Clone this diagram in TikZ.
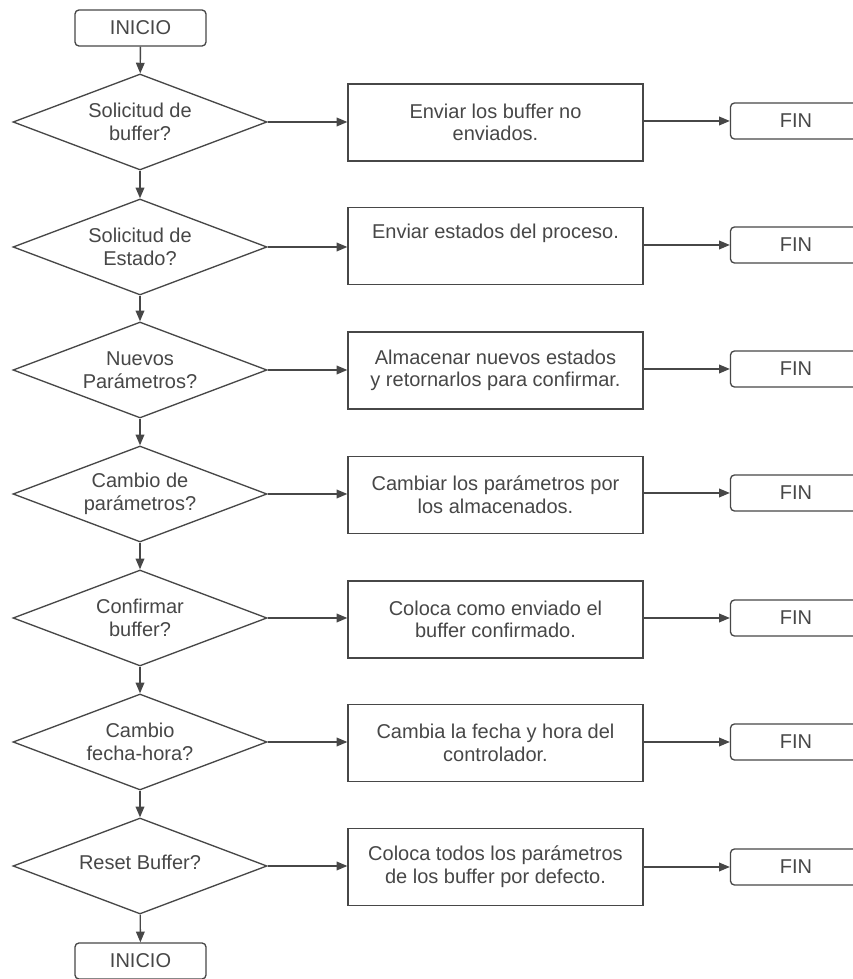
\documentclass[tikz,border=0pt]{standalone}
\usepackage{fontspec}
\setmainfont{Liberation Sans}
\usepackage{tikz}
\usetikzlibrary{arrows.meta, positioning, shapes.geometric}

\begin{document}
\begin{tikzpicture}[x=0.75pt, y=0.75pt,
    every node/.style={text=black!72, font=\fontsize{15}{17}\selectfont},
    terminal/.style={draw=black!72, line width=1pt, rounded corners=3pt, minimum width=98.25pt, minimum height=27pt, inner sep=0pt},
    decision/.style={draw=black!72, line width=1pt, diamond, aspect=2.65, inner sep=0pt, minimum width=190.5pt, minimum height=72pt, align=center},
    process/.style={draw=black!72, line width=1pt, minimum width=221.25pt, minimum height=57.75pt, inner sep=0pt, align=center},
    flow/.style={draw=black!72, line width=1pt, -{Triangle[length=8pt, width=6.5pt]}}]
    \useasboundingbox (0, 0) rectangle (853, 979);
    \fill[white] (0, 0) rectangle (853, 979);

    \node[terminal] (ini1) at (140.5, 951) {INICIO};

    \node[decision] (q1) at (140, 857) {Solicitud de\\buffer?};
    \node[decision] (q2) at (140, 732) {Solicitud de\\Estado?};
    \node[decision] (q3) at (140, 609) {Nuevos\\Parámetros?};
    \node[decision] (q4) at (140, 485) {Cambio de\\parámetros?};
    \node[decision] (q5) at (140, 361) {Confirmar\\buffer?};
    \node[decision] (q6) at (140, 237) {Cambio\\fecha-hora?};
    \node[decision] (q7) at (140, 113) {\raisebox{6pt}{Reset Buffer?}};

    \node[process] (p1) at (495.5, 856.5) {Enviar los buffer no\\enviados.};
    \node[process] (p2) at (495.5, 733) {Enviar estados del proceso.\\ \strut};
    \node[process] (p3) at (495.5, 608.5) {Almacenar nuevos estados\\y retornarlos para confirmar.};
    \node[process] (p4) at (495.5, 484) {Cambiar los parámetros por\\los almacenados.};
    \node[process] (p5) at (495.5, 359.5) {Coloca como enviado el\\buffer confirmado.};
    \node[process] (p6) at (495.5, 236) {Cambia la fecha y hora del\\controlador.};
    \node[process] (p7) at (495.5, 112) {Coloca todos los parámetros\\de los buffer por defecto.};

    \node[terminal] (f1) at (796, 858) {FIN};
    \node[terminal] (f2) at (796, 734) {FIN};
    \node[terminal] (f3) at (796, 610) {FIN};
    \node[terminal] (f4) at (796, 486) {FIN};
    \node[terminal] (f5) at (796, 361) {FIN};
    \node[terminal] (f6) at (796, 237) {FIN};
    \node[terminal] (f7) at (796, 112) {FIN};

    \node[terminal] (ini2) at (140.5, 18) {INICIO};

    \draw[flow] (ini1) -- (q1);
    \draw[flow] (q1) -- (q2);
    \draw[flow] (q2) -- (q3);
    \draw[flow] (q3) -- (q4);
    \draw[flow] (q4) -- (q5);
    \draw[flow] (q5) -- (q6);
    \draw[flow] (q6) -- (q7);
    \draw[flow] (q7) -- (ini2);

    \foreach \i in {1,...,7} {
        \draw[flow] (q\i.east) -- (q\i.east -| p\i.west);
        \draw[flow] (p\i.east |- f\i.west) -- (f\i.west);
    }
\end{tikzpicture}
\end{document}
